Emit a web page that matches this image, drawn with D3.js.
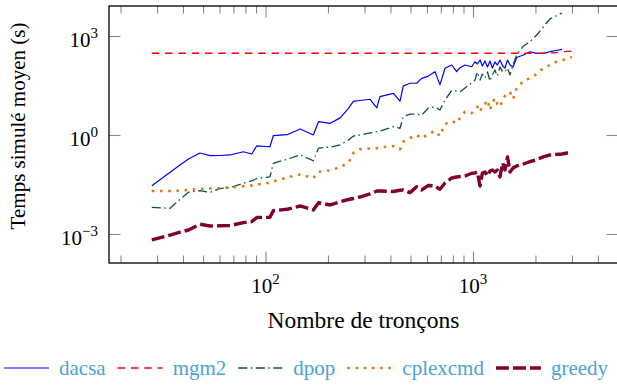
<!DOCTYPE html>
<html>
<head>
<meta charset="utf-8">
<script src="https://cdn.jsdelivr.net/npm/d3@7"></script>
<style>
  body { margin: 0; background: #fff; }
</style>
</head>
<body>
<svg id="chart" width="617" height="385"></svg>
<script>
// nombre de tronçons (shared by all solvers)
var troncons = [28.3, 34.7, 38.7, 42.5, 48.3, 54.0, 60.3, 67.4, 78.2, 85.8, 90.7, 105, 109, 127, 147, 170, 180, 205, 229, 251,
  265, 285, 319, 344, 356, 413, 445, 461, 497, 535, 566, 609, 656, 693, 733, 790, 834, 866, 915, 986,
  1022, 1050, 1081, 1110, 1142, 1175, 1207, 1240, 1276, 1310, 1349, 1390, 1426, 1467, 1508, 1560, 1624, 1748, 1883, 2028,
  2182, 2350, 2512, 2685, 2838, 3000];

// temps simulé moyen (s)
var dacsa = [0.029, 0.074, 0.123, 0.187, 0.285, 0.236, 0.239, 0.248, 0.31, 0.265, 0.47, 0.44, 0.95, 1.02, 1.52, 1.0, 2.53, 2.26, 3.3, 6.4,
  10.4, 11.1, 12.1, 6.6, 14.5, 18.3, 10.7, 30.5, 37, 37, 52, 61, 83, 33, 105, 132, 83, 109, 132, 117,
  166, 142, 187, 123, 175, 115, 175, 107, 163, 132, 187, 123, 107, 187, 132, 115, 223, 266, 334, 299,
  299, 334, 364, 395, null, null];
var mgm2 = [300, 300, 300, 300, 300, 300, 300, 300, 300, 300, 300, 300, 300, 300, 300, 300, 300, 300, 300, 300,
  300, 300, 300, 300, 300, 300, 300, 300, 300, 300, 300, 300, 300, 300, 300, 300, 300, 300, 300, 300,
  300, 300, 300, 300, 300, 300, 300, 300, 300, 300, 300, 300, 300, 300, 300, 300, 300, 300, 300, 300,
  300, 305, 315, 327, 340, 351];
var dpop = [0.0064, 0.0060, 0.0113, 0.0184, 0.0205, 0.0184, 0.0236, 0.0257, 0.0344, 0.0404, 0.048, 0.054, 0.139, 0.184, 0.248, 0.166, 0.40, 0.43, 0.50, 0.70,
  0.93, 1.0, 1.15, 1.26, 1.32, 1.79, 1.6, 3.6, 4.3, 4.3, 4.0, 6.6, 7.1, 5.7, 11.5, 22.3, 21.5, 20.5, 26.6, 37.7,
  46, 81, 46, 70, 53, 81, 43, 66, 93, 61, 115, 81, 83, 107, 66, 132, 266, 497, 672, 1072,
  1874, 3273, 4036, 4977, null, null];
var cplexcmd = [0.0201, 0.0200, 0.0208, 0.0216, 0.0231, 0.0238, 0.0243, 0.0257, 0.0279, 0.0295, 0.0312, 0.036, 0.039, 0.0515, 0.0636, 0.049, 0.077, 0.084, 0.107, 0.142,
  0.285, 0.37, 0.39, 0.40, 0.42, 0.46, 0.37, 0.63, 0.81, 1.0, 0.79, 1.07, 1.32, 0.93, 2.15, 2.66, 2.26, 3.27, 5.1, 4.6,
  5.7, 7.1, 5.0, 7.6, 8.7, 11.5, 5.7, 9.3, 13.2, 8.7, 7.1, 11.5, 15.2, 18.7, 20.1, 12.3, 26.6, 43, 53, 70,
  107, 132, 163, 181, 208, 231];
var greedy = [0.00066, 0.00093, 0.00113, 0.00132, 0.00197, 0.00175, 0.00177, 0.00179, 0.0022, 0.00236, 0.00316, 0.00321, 0.00508, 0.0056, 0.00705, 0.00534, 0.00888, 0.00757, 0.00953, 0.0111,
  0.0119, 0.0132, 0.0163, 0.0201, 0.0201, 0.0194, 0.0211, 0.0216, 0.0179, 0.0271, 0.0216, 0.0295, 0.0285, 0.0226, 0.0351, 0.0498, 0.0534, 0.0552, 0.0573, 0.0691,
  0.0705, 0.0757, 0.0285, 0.0705, 0.0757, 0.0573, 0.0811, 0.087, 0.0757, 0.087, 0.0534, 0.142, 0.087, 0.216, 0.0757, 0.1, 0.115, 0.132, 0.155, 0.181,
  0.216, 0.248, 0.257, 0.265, 0.285, 0.299];

var seriesNames = ["dacsa", "mgm2", "dpop", "cplexcmd", "greedy"];
var xMajorTicks = [100, 1000];
var xMinorTicks = [20, 30, 40, 50, 60, 70, 80, 90, 200, 300, 400, 500, 600, 700, 800, 900, 2000, 3000, 4000];
var yMajorTicks = [0.001, 1, 1000];

var serif = "'Liberation Serif', 'DejaVu Serif', 'Times New Roman', serif";

var styles = {
  dacsa:    {color: "#0000ff", width: 1.2, dash: null},
  mgm2:     {color: "#ff0000", width: 1.3, dash: "7.5,5.8"},
  dpop:     {color: "#0b5050", width: 1.3, dash: "9,3.5,1.5,3.5"},
  cplexcmd: {color: "#e07a12", width: 2.6, dash: "2.6,5.6"},
  greedy:   {color: "#800032", width: 3.4, dash: "13,4"}
};
var seriesData = {dacsa: dacsa, mgm2: mgm2, dpop: dpop, cplexcmd: cplexcmd, greedy: greedy};

var plot = {left: 109, right: 618, top: 6, bottom: 263};

var svg = d3.select("#chart");

var x = d3.scaleLog().domain([17.6, 5000]).range([plot.left, plot.right]);
var y = d3.scaleLog().domain([1.32e-4, 8110]).range([plot.bottom, plot.top]);

svg.append("clipPath").attr("id", "clip")
  .append("rect")
  .attr("x", plot.left).attr("y", plot.top)
  .attr("width", plot.right - plot.left).attr("height", plot.bottom - plot.top);

// ticks (all pointing inwards)
function tickAxis(axis, transform, size) {
  var g = svg.append("g")
    .attr("transform", transform)
    .call(axis.tickSize(size).tickFormat(""));
  g.select(".domain").remove();
  g.selectAll("line").attr("stroke", "#8a8a8a").attr("stroke-width", 1.1);
}
tickAxis(d3.axisBottom(x).tickValues(xMinorTicks), "translate(0," + plot.bottom + ")", -7.5);
tickAxis(d3.axisBottom(x).tickValues(xMajorTicks), "translate(0," + plot.bottom + ")", -11.5);
tickAxis(d3.axisTop(x).tickValues(xMinorTicks), "translate(0," + plot.top + ")", -7.5);
tickAxis(d3.axisTop(x).tickValues(xMajorTicks), "translate(0," + plot.top + ")", -11.5);
tickAxis(d3.axisLeft(y).tickValues(yMajorTicks), "translate(" + plot.left + ",0)", -11.5);
tickAxis(d3.axisRight(y).tickValues(yMajorTicks), "translate(" + plot.right + ",0)", -11.5);

// series
var line = d3.line()
  .defined(function (d) { return d[1] !== null; })
  .x(function (d) { return x(d[0]); })
  .y(function (d) { return y(d[1]); });

var lines = svg.append("g").attr("clip-path", "url(#clip)");
seriesNames.forEach(function (name) {
  var pts = troncons.map(function (t, i) { return [t, seriesData[name][i]]; });
  var st = styles[name];
  lines.append("path")
    .datum(pts)
    .attr("d", line)
    .attr("fill", "none")
    .attr("stroke", st.color)
    .attr("stroke-width", st.width)
    .attr("stroke-dasharray", st.dash)
    .attr("stroke-linejoin", "round");
});

// frame
svg.append("rect")
  .attr("x", plot.left).attr("y", plot.top)
  .attr("width", plot.right - plot.left).attr("height", plot.bottom - plot.top)
  .attr("fill", "none").attr("stroke", "#000").attr("stroke-width", 1.3);

// tick labels 10^k
function powerLabel(g, v) {
  var e = Math.round(Math.log10(v));
  g.append("tspan").text("10");
  g.append("tspan").attr("dy", -9).attr("font-size", 15).text(e < 0 ? "\u2212" + (-e) : e);
}
xMajorTicks.forEach(function (v) {
  var t = svg.append("text")
    .attr("x", x(v)).attr("y", 293)
    .attr("text-anchor", "middle")
    .attr("font-family", serif)
    .attr("font-size", 21);
  powerLabel(t, v);
});
yMajorTicks.forEach(function (v) {
  var t = svg.append("text")
    .attr("x", 98).attr("y", y(v) + 10.7)
    .attr("text-anchor", "end")
    .attr("font-family", serif)
    .attr("font-size", 21);
  powerLabel(t, v);
});

// axis titles
svg.append("text")
  .attr("x", (plot.left + plot.right) / 2).attr("y", 328)
  .attr("text-anchor", "middle")
  .attr("font-family", serif)
  .attr("font-size", 23.5)
  .text("Nombre de tronçons");

svg.append("text")
  .attr("transform", "translate(25,126)rotate(-90)")
  .attr("text-anchor", "middle")
  .attr("font-family", serif)
  .attr("font-size", 21)
  .text("Temps simulé moyen (s)");

// legend
var lx = 4, ly = 368;
seriesNames.forEach(function (name) {
  var st = styles[name];
  svg.append("line")
    .attr("x1", lx).attr("x2", lx + 45)
    .attr("y1", ly).attr("y2", ly)
    .attr("stroke", st.color)
    .attr("stroke-width", st.width)
    .attr("stroke-dasharray", st.dash);
  var t = svg.append("text")
    .attr("x", lx + 55).attr("y", ly + 6.5)
    .attr("fill", "#4ba3d6")
    .attr("font-family", serif)
    .attr("font-size", 21)
    .text(name);
  lx += 55 + t.node().getComputedTextLength() + 12;
});
</script>
</body>
</html>
